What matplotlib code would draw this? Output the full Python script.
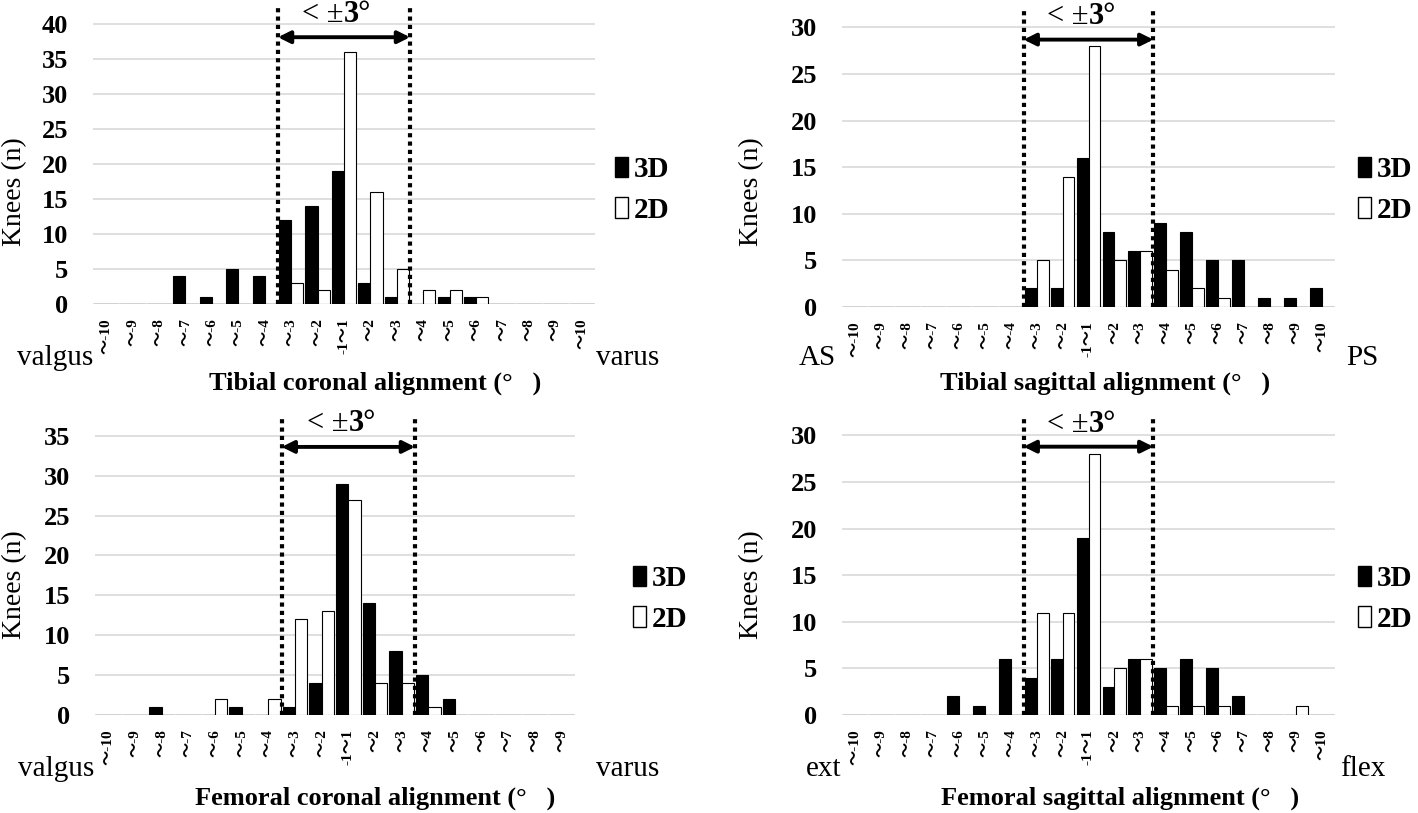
import numpy as np
import matplotlib
matplotlib.use("Agg")
import matplotlib.pyplot as plt
from matplotlib.patches import Patch

plt.rcParams['font.family'] = ['Liberation Serif', 'Noto Sans CJK JP', 'DejaVu Sans']

# categories
cats_19 = ["～-10", "～-9", "～-8", "～-7", "～-6", "～-5", "～-4", "～-3", "～-2", "-1～1",
           "～2", "～3", "～4", "～5", "～6", "～7", "～8", "～9", "～10"]
cats_18 = cats_19[:-1]

# tibial coronal
tc_3d = [0, 0, 0, 4, 1, 5, 4, 12, 14, 19, 3, 1, 0, 1, 1, 0, 0, 0, 0]
tc_2d = [0, 0, 0, 0, 0, 0, 0, 3, 2, 36, 16, 5, 2, 2, 1, 0, 0, 0, 0]
# tibial sagittal
ts_3d = [0, 0, 0, 0, 0, 0, 0, 2, 2, 16, 8, 6, 9, 8, 5, 5, 1, 1, 2]
ts_2d = [0, 0, 0, 0, 0, 0, 0, 5, 14, 28, 5, 6, 4, 2, 1, 0, 0, 0, 0]
# femoral coronal
fc_3d = [0, 0, 1, 0, 0, 1, 0, 1, 4, 29, 14, 8, 5, 2, 0, 0, 0, 0]
fc_2d = [0, 0, 0, 0, 2, 0, 2, 12, 13, 27, 4, 4, 1, 0, 0, 0, 0, 0]
# femoral sagittal
fs_3d = [0, 0, 0, 0, 2, 1, 6, 4, 6, 19, 3, 6, 5, 6, 5, 2, 0, 0, 0]
fs_2d = [0, 0, 0, 0, 0, 0, 0, 11, 11, 28, 5, 6, 1, 1, 1, 0, 0, 1, 0]

W, H = 1418, 813
fig = plt.figure(figsize=(W / 100, H / 100), dpi=100)


def px(x, y):
    return x / W, 1 - y / H


def panel(rect, cats, v3d, v2d, ymax, ytop, arrow_y, text_y,
          xlabel, left_lab, right_lab, xl_pos, ll_pos, rl_pos, yl_pos, leg_pos):
    x0, y0, x1, y1 = rect  # pixel box: left, zero-line, right, top
    ax = fig.add_axes([x0 / W, 1 - y0 / H, (x1 - x0) / W, (y0 - y1) / H])
    x = np.arange(len(cats))
    bw = 0.46
    ax.bar(x - bw / 2, v3d, bw, color='black', edgecolor='black', lw=0.8, zorder=3)
    ax.bar(x + bw / 2, v2d, bw, color='white', edgecolor='black', lw=0.8, zorder=3)
    ax.set_xlim(-0.5, len(cats) - 0.5)
    ax.set_ylim(0, ytop)
    yt = list(range(0, ymax + 1, 5))
    ax.set_yticks(yt)
    ax.set_yticklabels([str(v) for v in yt], fontsize=19, fontweight='bold')
    ax.set_xticks(x)
    ax.set_xticklabels(cats, rotation=90, fontsize=11, fontweight='bold', va='top')
    ax.tick_params(axis='x', length=0, pad=10)
    ax.tick_params(axis='y', length=0, pad=18)
    ax.yaxis.grid(True, color='#d9d9d9', lw=1.2, zorder=0)
    ax.set_axisbelow(True)
    for s in ax.spines.values():
        s.set_visible(False)
    # +-3 degree band
    lo, hi = 6.5, 11.5
    ax.vlines([lo, hi], 0, ytop, colors='black', linestyles=(0, (1, 1)), lw=3,
              zorder=4, clip_on=False)
    ax.annotate('', xy=(hi, arrow_y), xytext=(lo, arrow_y),
                arrowprops=dict(arrowstyle='<|-|>', color='black', lw=2.8,
                                shrinkA=0, shrinkB=0, mutation_scale=18))
    mid = (lo + hi) / 2
    ax.text(mid, text_y, '< ±', ha='right', va='center', fontsize=22)
    ax.text(mid, text_y, '3°', ha='left', va='center', fontsize=22,
            fontweight='bold')
    fig.text(*px(*xl_pos), xlabel, ha='center', va='center', fontsize=19,
             fontweight='bold')
    fig.text(*px(*ll_pos), left_lab, ha='center', va='center', fontsize=21)
    fig.text(*px(*rl_pos), right_lab, ha='center', va='center', fontsize=21)
    fig.text(*px(*yl_pos), 'Knees (n)', ha='center', va='center', fontsize=20,
             rotation=90)
    handles = [Patch(facecolor='black', edgecolor='black'),
               Patch(facecolor='white', edgecolor='black')]
    ax.legend(handles, ['3D', '2D'], loc='center left',
              bbox_to_anchor=px(*leg_pos), bbox_transform=fig.transFigure,
              frameon=False, handlelength=0.45, handleheight=0.7,
              handletextpad=0.2, labelspacing=0.45, borderpad=0,
              borderaxespad=0, prop={'size': 21, 'weight': 'bold'})
    return ax


panel((93, 304, 595, 5), cats_19, tc_3d, tc_2d, 40, 42.7, 38.1, 41.3,
      'Tibial coronal alignment (°   )', 'valgus', 'varus',
      (375, 383), (55, 358), (628, 358), (15, 192), (615, 190))

panel((842, 307, 1335, 7), cats_19, ts_3d, ts_2d, 30, 32.2, 28.7, 31.2,
      'Tibial sagittal alignment (°   )', 'AS', 'PS',
      (1105, 383), (817, 358), (1362, 358), (752, 192), (1358, 190))

panel((95, 715, 575, 415), cats_18, fc_3d, fc_2d, 35, 37.6, 33.6, 36.5,
      'Femoral coronal alignment (°   )', 'valgus', 'varus',
      (375, 798), (56, 769), (628, 769), (15, 585), (633, 599))

panel((842, 715, 1335, 415), cats_19, fs_3d, fs_2d, 30, 32.2, 28.8, 31.2,
      'Femoral sagittal alignment (°   )', 'ext', 'flex',
      (1120, 798), (824, 769), (1363, 769), (752, 585), (1358, 599))

fig.savefig('out.png', dpi=100)
